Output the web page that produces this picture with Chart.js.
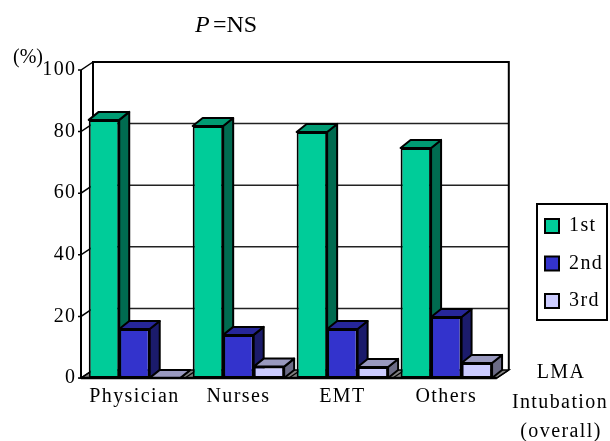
<!DOCTYPE html>
<html>
<head>
<meta charset="utf-8">
<title>LMA intubation</title>
<script src="https://cdn.jsdelivr.net/npm/chart.js@4"></script>
<style>
    html, body { margin: 0; padding: 0; background: #fff; }
    canvas { display: block; }
</style>
</head>
<body>
<canvas id="chart" width="610" height="441"></canvas>
<script>
const categories = ['Physician', 'Nurses', 'EMT', 'Others'];
const seriesNames = ['1st', '2nd', '3rd'];
const firstAttempt = [83.8, 81.8, 79.9, 74.7];
const secondAttempt = [15.9, 14, 15.9, 19.8];
const thirdAttempt = [0, 3.7, 3.6, 4.9];

const frontColors = ['#00CC99', '#3333CC', '#CCCCFF'];
const sideColors = ['#006B50', '#1B1B6B', '#6B6B86'];
const topColors = ['#009B73', '#262699', '#9999BF'];

const SERIF = "'Liberation Serif'";
const DEPTH_X = 12;   // wall depth
const DEPTH_Y = 8;
const BAR_DEPTH_X = 10;
const BAR_DEPTH_Y = 8;
const LETTER_SPACING = '1.4px';

function poly(ctx, points, fill) {
    ctx.beginPath();
    points.forEach((p, i) => i ? ctx.lineTo(p[0], p[1]) : ctx.moveTo(p[0], p[1]));
    ctx.closePath();
    if (fill) {
        ctx.fillStyle = fill;
        ctx.fill();
    }
    ctx.stroke();
}

function text(ctx, str, x, y, font, align) {
    ctx.font = font;
    ctx.textAlign = align || 'left';
    ctx.textBaseline = 'alphabetic';
    ctx.fillStyle = '#000';
    ctx.fillText(str, x, y);
}

function drawWalls(chart) {
    const ctx = chart.ctx;
    const y = chart.scales.y;
    const left = chart.chartArea.left - 1.5;
    const right = chart.chartArea.right - 1.5;
    const bottom = y.getPixelForValue(0);
    const top = y.getPixelForValue(100);

    ctx.save();
    ctx.strokeStyle = '#000';

    // floor
    ctx.lineWidth = 1.5;
    poly(ctx, [[left, bottom], [right, bottom], [right + DEPTH_X, bottom - DEPTH_Y], [left + DEPTH_X, bottom - DEPTH_Y]], '#808080');
    categories.forEach((c, i) => {
        const bx = left + (right - left) * (i + 1) / categories.length;
        ctx.beginPath();
        ctx.moveTo(bx, bottom);
        ctx.lineTo(bx + DEPTH_X, bottom - DEPTH_Y);
        ctx.stroke();
    });

    // gridlines on the back wall, diagonals on the side wall
    y.ticks.forEach(t => {
        const py = y.getPixelForValue(t.value);
        ctx.lineWidth = 1.5;
        if (t.value > 0 && t.value < 100) {
            ctx.strokeStyle = '#222';
            ctx.beginPath();
            ctx.moveTo(left + DEPTH_X, py - DEPTH_Y);
            ctx.lineTo(right + DEPTH_X, py - DEPTH_Y);
            ctx.stroke();
            ctx.strokeStyle = '#000';
        }
        ctx.beginPath();
        ctx.moveTo(left - 3, py);
        ctx.lineTo(left, py);
        ctx.lineTo(left + DEPTH_X, py - DEPTH_Y);
        ctx.stroke();
    });

    // walls
    ctx.lineWidth = 2;
    ctx.beginPath();
    ctx.moveTo(left + DEPTH_X, bottom - DEPTH_Y);
    ctx.lineTo(left + DEPTH_X, top - DEPTH_Y);
    ctx.lineTo(right + DEPTH_X, top - DEPTH_Y);
    ctx.lineTo(right + DEPTH_X, bottom - DEPTH_Y);
    ctx.stroke();
    ctx.beginPath();
    ctx.moveTo(left, top);
    ctx.lineTo(left, bottom);
    ctx.stroke();

    // legend frame
    ctx.strokeRect(537, 204, 70, 116);
    ctx.restore();
}

function drawBarFaces(chart, meta, index) {
    const ctx = chart.ctx;
    ctx.save();
    ctx.strokeStyle = '#000';
    ctx.lineWidth = 2;
    ctx.lineJoin = 'round';
    meta.data.forEach(bar => {
        const { x, y, base, width } = bar.getProps(['x', 'y', 'base', 'width'], true);
        const l = x - width / 2;
        const r = x + width / 2;
        poly(ctx, [[r, y], [r + BAR_DEPTH_X, y - BAR_DEPTH_Y], [r + BAR_DEPTH_X, base - BAR_DEPTH_Y], [r, base]], sideColors[index]);
        poly(ctx, [[l, y], [l + BAR_DEPTH_X, y - BAR_DEPTH_Y], [r + BAR_DEPTH_X, y - BAR_DEPTH_Y], [r, y]], topColors[index]);
    });
    ctx.restore();
}

const threeD = {
    id: 'threeD',
    beforeLayout(chart) {
        chart.ctx.letterSpacing = LETTER_SPACING;
    },
    afterLayout(chart) {
        // legend sits further right than the layout would put it
        const legend = chart.legend;
        legend.left = 527.5;
        legend.right = 610;
        legend.top = 198.5;
        legend.bottom = 341;
    },
    beforeDraw(chart) {
        chart.ctx.letterSpacing = LETTER_SPACING;
    },
    beforeDatasetsDraw(chart) {
        drawWalls(chart);
        // 1st series first: the next bar's top has to cover its side
        seriesNames.forEach((name, i) => {
            const meta = chart.getDatasetMeta(i);
            drawBarFaces(chart, meta, i);
            meta.controller.draw();
        });
    },
    beforeDatasetDraw() {
        return false;
    },
    afterDatasetsDraw(chart) {
        const ctx = chart.ctx;
        const bottom = chart.scales.y.getPixelForValue(0);
        ctx.save();
        ctx.strokeStyle = '#000';
        ctx.lineWidth = 2.5;
        ctx.beginPath();
        ctx.moveTo(chart.chartArea.left - 1.5, bottom);
        ctx.lineTo(chart.chartArea.right - 1.5, bottom);
        ctx.stroke();
        ctx.restore();
    },
    afterDraw(chart) {
        const ctx = chart.ctx;
        ctx.save();
        ctx.letterSpacing = '0px';
        text(ctx, 'P', 195, 32, `italic 24px ${SERIF}`);
        text(ctx, '=NS', 213, 32, `24px ${SERIF}`);
        text(ctx, '(%)', 13, 62.5, `20px ${SERIF}`);
        ctx.letterSpacing = LETTER_SPACING;
        text(ctx, 'LMA', 561, 378, `20px ${SERIF}`, 'center');
        text(ctx, 'Intubation', 560, 408, `20px ${SERIF}`, 'center');
        text(ctx, '(overall)', 561, 437, `20px ${SERIF}`, 'center');
        ctx.restore();
    }
};

const seriesValues = [firstAttempt, secondAttempt, thirdAttempt];

new Chart(document.getElementById('chart'), {
    type: 'bar',
    data: {
        labels: categories,
        datasets: seriesNames.map((name, i) => ({
            label: name,
            data: seriesValues[i],
            backgroundColor: frontColors[i],
            borderColor: '#000',
            borderWidth: 2,
            borderSkipped: false,
            categoryPercentage: 0.88,
            barPercentage: 1
        }))
    },
    plugins: [threeD],
    options: {
        responsive: false,
        animation: false,
        devicePixelRatio: 1,
        layout: { padding: { left: 0, top: 70, right: 26, bottom: 0 } },
        plugins: {
            tooltip: { enabled: false },
            title: { display: false },
            legend: {
                position: 'right',
                align: 'start',
                labels: {
                    boxWidth: 14,
                    boxHeight: 14,
                    padding: 17.5,
                    color: '#000',
                    font: { family: SERIF, size: 20 }
                }
            }
        },
        scales: {
            x: {
                grid: { display: false, drawTicks: false },
                border: { display: false },
                ticks: {
                    color: '#000',
                    font: { family: SERIF, size: 20 },
                    padding: 7,
                    maxRotation: 0,
                    autoSkip: false
                },
                afterFit(scale) { scale.height = 63; }
            },
            y: {
                min: 0,
                max: 100,
                grid: { display: false, drawTicks: false },
                border: { display: false },
                ticks: {
                    stepSize: 20,
                    color: '#000',
                    font: { family: SERIF, size: 20 },
                    padding: 6
                },
                afterFit(scale) { scale.width = 82.5; }
            }
        }
    }
});
</script>
</body>
</html>
